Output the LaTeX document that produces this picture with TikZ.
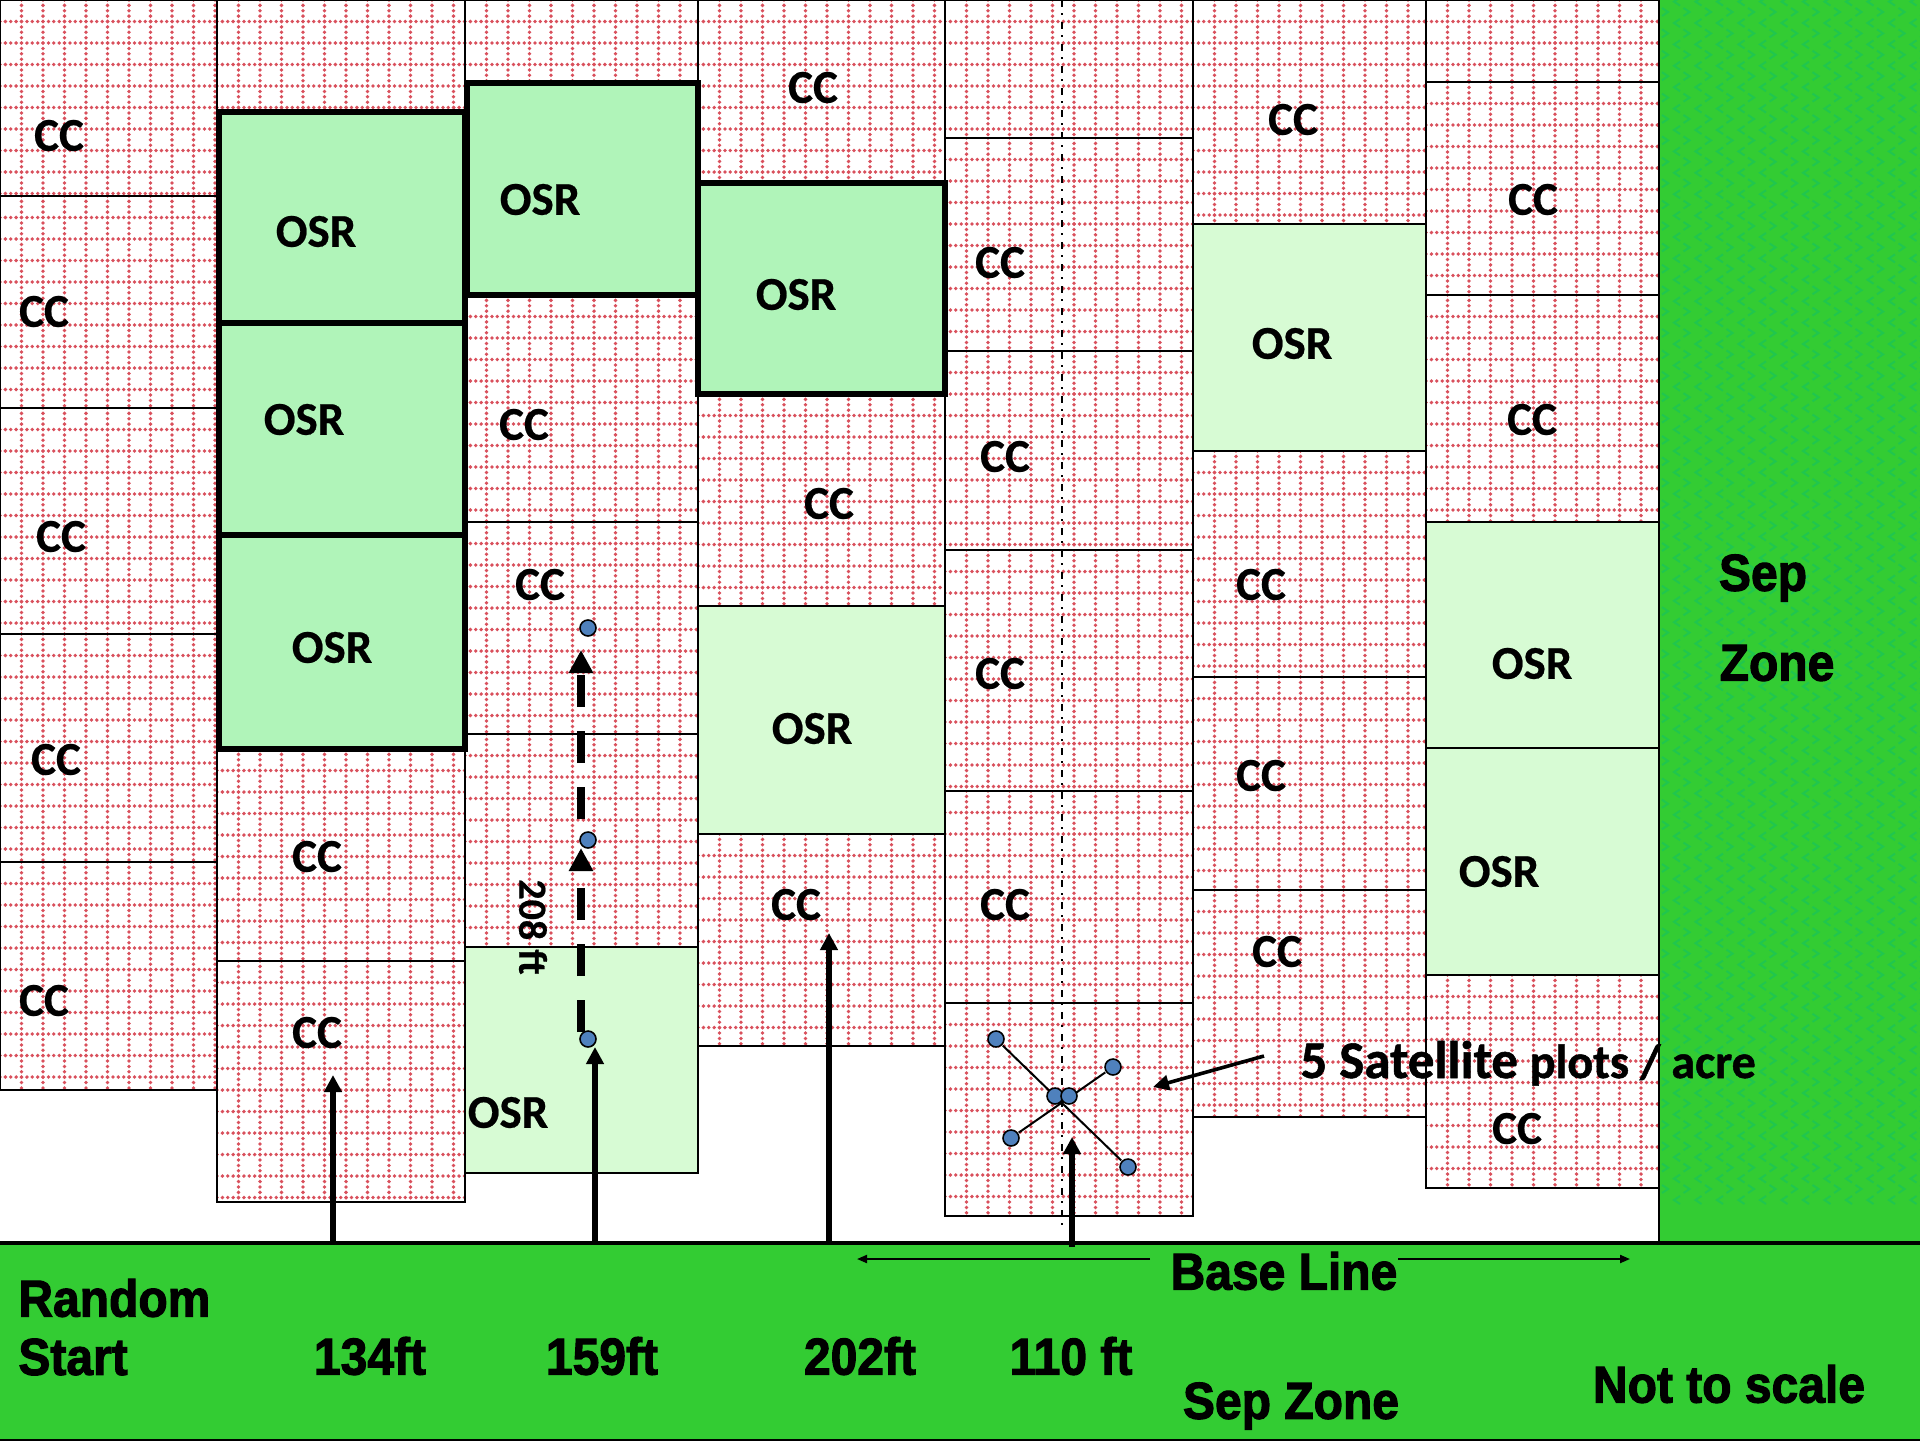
\documentclass[tikz,border=0pt]{standalone}
\usepackage{fontspec}
\usetikzlibrary{arrows.meta}
\setmainfont[BoldFeatures={FakeBold=0.5}]{Carlito}
\newfontfamily\labf[BoldFeatures={FakeBold=2.2}]{Liberation Sans}
\newfontfamily\satf[BoldFeatures={FakeBold=1.0}]{Carlito}
\definecolor{bandgreen}{HTML}{33CC33}
\definecolor{chevgreen}{HTML}{20C64E}
\definecolor{griddotc}{HTML}{D9505C}
\definecolor{osrdark}{HTML}{B0F4B9}
\definecolor{osrlight}{HTML}{D7FBD4}
\definecolor{dotblue}{HTML}{4F81BD}
\tikzset{
  griddot/.style={griddotc,line width=1.9pt,line cap=round,dash pattern=on 0pt off 2.69pt},
  ccbox/.style={draw=black,line width=1pt,inner sep=0pt,outer sep=0pt},
  osrbold/.style={draw=black,line width=2.6pt,fill=osrdark,inner sep=0pt,outer sep=0pt},
  osrpale/.style={draw=black,line width=1pt,fill=osrlight,inner sep=0pt,outer sep=0pt},
  celltxt/.style={font=\fontsize{23.5}{25}\selectfont\bfseries,text=black,inner sep=0pt,yshift=0.25pt},
  bandtxt/.style={font=\fontsize{24}{26}\selectfont\labf\bfseries,text=black,inner sep=0pt,yscale=1.08,transform shape},
  upthick/.style={line width=3pt,-{Triangle[length=8.5pt,width=8.5pt]}},
  dasharrow/.style={line width=4pt,dash pattern=on 16pt off 12pt,-{Triangle[length=11.5pt,width=11.5pt]}},
  bluedot/.style={circle,draw=black,fill=dotblue,line width=0.8pt,minimum size=8pt,inner sep=0pt,outer sep=0.7pt},
  satline/.style={line width=1pt,black},
  baseline arrow/.style={line width=1pt,-{Triangle[length=5pt,width=4pt]}},
  band/.style={draw=black,line width=1pt,fill=bandgreen,inner sep=0pt,outer sep=0pt},
}
\newcommand{\cccell}[5]{%
  \fill[white] (#2,#3) rectangle (#4,#5);
  \begin{scope}
    \clip (#2,#3) rectangle (#4,#5);
    \foreach \k in {1,...,12}{
      \draw[griddot] ({#2+\k*21.5},#3) -- ({#2+\k*21.5},#5);
      \draw[griddot] (#2,{#3+\k*21.5}) -- (#4,{#3+\k*21.5});
    }
  \end{scope}
  \node[ccbox,minimum width={(#4-#2)*0.5pt},minimum height={(#5-#3)*0.5pt}] (#1) at ({(#2+#4)/2},{(#3+#5)/2}) {};
}
\newcommand{\osrcell}[6]{%
  \node[#1,minimum width={(#5-#3)*0.5pt},minimum height={(#6-#4)*0.5pt}] (#2) at ({(#3+#5)/2},{(#4+#6)/2}) {};
}
\begin{document}
\begin{tikzpicture}[x=0.5pt,y=-0.5pt]
\useasboundingbox (0,0) rectangle (1920,1440);
\fill[white] (0,0) rectangle (1920,1440);
% column 1
\cccell{aa}{0}{0}{217}{196}
\cccell{ab}{0}{196}{217}{408}
\cccell{ac}{0}{408}{217}{634}
\cccell{ad}{0}{634}{217}{862}
\cccell{ae}{0}{862}{217}{1090}
% column 2
\cccell{ba}{217}{0}{465}{112}
\cccell{bb}{217}{749}{465}{961}
\cccell{bc}{217}{961}{465}{1202}
% column 3
\cccell{ca}{465}{0}{698}{83}
\cccell{cb}{465}{295}{698}{522}
\cccell{cc}{465}{522}{698}{734}
\cccell{cd}{465}{734}{698}{947}
\osrcell{osrpale}{ce}{465}{947}{698}{1173}
% column 4
\cccell{da}{698}{0}{945}{183}
\cccell{db}{698}{394}{945}{606}
\osrcell{osrpale}{dc}{698}{606}{945}{834}
\cccell{dd}{698}{834}{945}{1046}
% column 5
\cccell{ea}{945}{0}{1193}{138}
\cccell{eb}{945}{138}{1193}{351}
\cccell{ec}{945}{351}{1193}{550}
\cccell{ed}{945}{550}{1193}{791}
\cccell{ee}{945}{791}{1193}{1003}
\cccell{ef}{945}{1003}{1193}{1216}
% column 6
\cccell{fa}{1193}{0}{1426}{224}
\osrcell{osrpale}{fb}{1193}{224}{1426}{451}
\cccell{fc}{1193}{451}{1426}{677}
\cccell{fd}{1193}{677}{1426}{890}
\cccell{fe}{1193}{890}{1426}{1117}
% column 7
\cccell{ga}{1426}{0}{1659}{82}
\cccell{gb}{1426}{82}{1659}{295}
\cccell{gc}{1426}{295}{1659}{522}
\osrcell{osrpale}{gd}{1426}{522}{1659}{748}
\osrcell{osrpale}{ge}{1426}{748}{1659}{975}
\cccell{gf}{1426}{975}{1659}{1188}
% bold OSR plots
\osrcell{osrbold}{bd}{219}{112}{465}{323}
\osrcell{osrbold}{be}{219}{323}{465}{535}
\osrcell{osrbold}{bf}{219}{535}{465}{749}
\osrcell{osrbold}{cf}{467}{83}{698}{295}
\osrcell{osrbold}{df}{698}{183}{945}{394}
% separation zones
\osrcell{band}{sepr}{1659}{-4}{1924}{1243}
\begin{scope}
  \clip (1660,0) rectangle (1920,1242);
  \foreach \r in {0,...,57}{
    \foreach \i in {0,...,12}{
      \draw[chevgreen,line width=1pt] ({1662+\i*21.5},{1185-\r*21.4}) -- ++(6,4) -- ++(-6,4);
      \draw[chevgreen,line width=1pt] ({1680+\i*21.5},{1196-\r*21.4}) -- ++(-6,4) -- ++(6,4);
    }
  }
\end{scope}
\osrcell{band}{sepb}{-1}{1243}{1921}{1440}
\coordinate (bandl) at (0,1243);
\coordinate (bandr) at (1920,1243);
\draw[line width=2.2pt] (bandl) -- (bandr);
% center line of the satellite cell
\coordinate (cla) at (1062,0);
\coordinate (clb) at (1062,1230);
\draw[line width=0.9pt,dash pattern=on 3.5pt off 3pt on 1pt off 3.5pt] (cla) -- (clb);
% arrows from base line
\coordinate (u1a) at (333,1243); \coordinate (u1b) at (333,1075);
\coordinate (u2a) at (595,1243); \coordinate (u2b) at (595,1047);
\coordinate (u3a) at (829,1243); \coordinate (u3b) at (829,933);
\coordinate (u4a) at (1072,1247); \coordinate (u4b) at (1072,1137);
\draw[upthick] (u1a) -- (u1b);
\draw[upthick] (u2a) -- (u2b);
\draw[upthick] (u3a) -- (u3b);
\draw[upthick] (u4a) -- (u4b);
% dashed transect
\coordinate (t1a) at (581,1032); \coordinate (t1b) at (581,848);
\coordinate (t2a) at (581,819); \coordinate (t2b) at (581,650);
\draw[dasharrow] (t1a) -- (t1b);
\draw[dasharrow] (t2a) -- (t2b);
\node[bluedot] (pa) at (588,628) {};
\node[bluedot] (pb) at (588,840) {};
\node[bluedot] (pc) at (588,1039) {};
% satellite plots
\node[bluedot] (stl) at (996,1039) {};
\node[bluedot] (str) at (1113,1067) {};
\node[bluedot] (sbl) at (1011,1138) {};
\node[bluedot] (sbr) at (1128,1167) {};
\draw[satline] (stl) -- (sbr);
\draw[satline] (str) -- (sbl);
\node[bluedot] (scl) at (1055,1096) {};
\node[bluedot] (scr) at (1069,1096) {};
\coordinate (sa) at (1264,1056); \coordinate (sb) at (1153,1087);
\draw[line width=1.8pt,-{Triangle[length=8pt,width=7.5pt]}] (sa) -- (sb);
% base line arrows
\coordinate (bla) at (1150,1259); \coordinate (blb) at (857,1259);
\coordinate (brc) at (1398,1259); \coordinate (brb) at (1630,1259);
\draw[baseline arrow] (bla) -- (blb);
\draw[baseline arrow] (brc) -- (brb);
% CC labels
\foreach \n/\x/\y in {l1/59/136,l2/44/312,l3/61/537,l4/56/760,l5/44/1001,
  l6/317/857,l7/317/1033,l8/524/425,l9/540/585,l10/813/88,l11/829/504,l12/796/905,
  l13/1000/263,l14/1005/457,l15/1000/674,l16/1005/905,
  l17/1293/120,l18/1261/585,l19/1261/776,l20/1277/952,
  l21/1533/200,l22/1532/420,l23/1517/1129}
  \node[celltxt] (\n) at (\x,\y) {CC};
% OSR labels
\foreach \n/\x/\y in {o1/316/232,o2/304/420,o3/332/648,o4/540/200,o5/508/1113,
  o6/796/295,o7/812/729,o8/1292/344,o9/1532/664,o10/1499/872}
  \node[celltxt] (\n) at (\x,\y) {OSR};
\node[font=\fontsize{20}{22}\selectfont\bfseries,inner sep=0pt,rotate=-90] (dist) at (533,927) {208 ft};
\node[anchor=base west,inner sep=0pt,font=\satf\bfseries] (sat) at (1300,1078) {\fontsize{26.5}{28}\selectfont 5 Satellite \fontsize{24}{26}\selectfont plots / acre};
% band labels
\node[bandtxt] (sep) at (1763,578) {Sep};
\node[bandtxt] (zone) at (1777,663) {Zone};
\node[bandtxt,anchor=west] (rand) at (18,1298) {Random};
\node[bandtxt,anchor=west] (start) at (18,1357) {Start};
\node[bandtxt] (d1) at (370,1356) {134ft};
\node[bandtxt] (d2) at (602,1356) {159ft};
\node[bandtxt] (d3) at (860,1356) {202ft};
\node[bandtxt] (d4) at (1071,1356) {110 ft};
\node[bandtxt] (bl) at (1284,1271) {Base Line};
\node[bandtxt] (sz) at (1291,1406) {Sep Zone};
\node[bandtxt] (nts) at (1729,1384) {Not to scale};
\end{tikzpicture}
\end{document}
